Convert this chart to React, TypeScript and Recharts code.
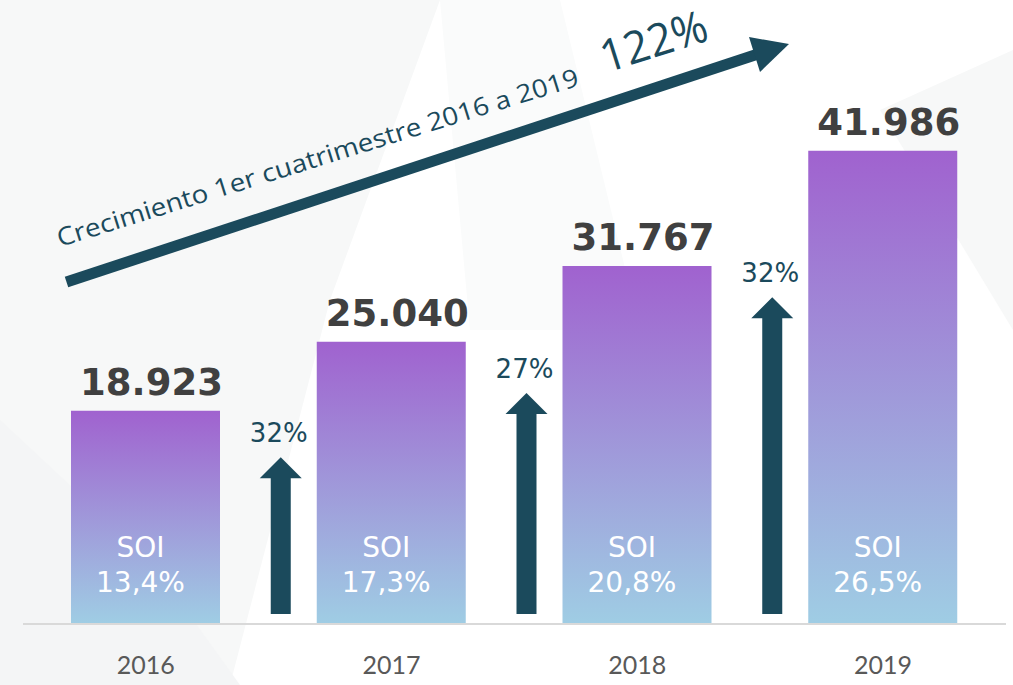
import React from "react";
import { BarChart, Bar, XAxis, YAxis, LabelList, ReferenceArea } from "recharts";

const years = ["2016", "2017", "2018", "2019"];
const afiliados = [18923, 25040, 31767, 41986];
const soiShare = ["13,4%", "17,3%", "20,8%", "26,5%"];

// growth arrows stand at the left edge of the year they lead into
const growthYears = ["2017", "2018", "2019"];
const growthLabels = ["32%", "27%", "32%"];
const growthArrowTops = [14800, 20500, 29000];

const captionText = "Crecimiento 1er cuatrimestre 2016 a 2019";
const totalGrowth = "122%";

const data = years.map((year, i) => ({ year, value: afiliados[i], soi: soiShare[i] }));

const TEAL = "#1b4a5c";

const fmt = (v: number) => String(v).replace(/\B(?=(\d{3})+(?!\d))/g, ".");

const ValueLabel = (props: any) => {
  const { x, y, width, value } = props;
  return (
    <text
      x={x + width / 2 + 6}
      y={y - 16}
      textAnchor="middle"
      fontFamily="DejaVu Sans"
      fontWeight="bold"
      fontSize={37}
      fill="#404040"
    >
      {fmt(value)}
    </text>
  );
};

const SoiLabel = (props: any) => {
  const { x, y, width, height, value } = props;
  const cx = x + width / 2 - 5;
  const base = y + height;
  return (
    <g fontFamily="DejaVu Sans" fontSize={28} fill="#ffffff" textAnchor="middle">
      <text x={cx} y={base - 67}>SOI</text>
      <text x={cx} y={base - 32}>{value}</text>
    </g>
  );
};

const GrowthArrow = (props: any) => {
  const { x, y, height, text } = props;
  const cx = x + 12;
  const top = y;
  const bottom = y + height - 10;
  const shaft = 10;
  const head = 21;
  const headH = 21;
  const d = `M${cx - shaft},${bottom} L${cx - shaft},${top + headH} L${cx - head},${top + headH} L${cx},${top} L${cx + head},${top + headH} L${cx + shaft},${top + headH} L${cx + shaft},${bottom} Z`;
  return (
    <g>
      <path d={d} fill={TEAL} />
      <text x={cx - 2} y={top - 15} textAnchor="middle" fontFamily="DejaVu Sans" fontSize={26} fill={TEAL}>
        {text}
      </text>
    </g>
  );
};

const YearTick = (props: any) => {
  const { x, y, payload } = props;
  return (
    <text x={x} y={y} dy={50} textAnchor="middle" fontFamily="Lato" fontSize={25} fill="#595959">
      {payload.value}
    </text>
  );
};

export default function App() {
  return (
    <div style={{ position: "absolute", left: 0, top: 0, width: 1013, height: 685, background: "#ffffff", overflow: "hidden" }}>
      <svg width={1013} height={685} style={{ position: "absolute", left: 0, top: 0 }}>
        <polygon points="0,0 440,0 330,300 230,685 0,685" fill="#f7f8f8" />
        <polygon points="0,420 150,560 240,685 0,685" fill="#f4f5f6" />
        <polygon points="880,110 1013,50 1013,330" fill="#f7f8f8" />
        <polygon points="440,0 560,0 640,330 470,330" fill="#fafbfb" />
      </svg>
      <div style={{ position: "absolute", left: 0, top: 0 }}>
        <BarChart width={1013} height={685} data={data} margin={{ top: 38, right: 7, bottom: 0, left: 23 }} barSize={149}>
          <defs>
            <linearGradient id="barFill" x1="0" y1="0" x2="0" y2="1">
              <stop offset="0%" stopColor="#a062cf" />
              <stop offset="100%" stopColor="#9fcde4" />
            </linearGradient>
          </defs>
          <XAxis
            dataKey="year"
            height={61}
            interval={0}
            axisLine={{ stroke: "#d9d9d9", strokeWidth: 2 }}
            tickLine={false}
            tickSize={0}
            tickMargin={0}
            tick={<YearTick />}
          />
          <YAxis hide domain={[0, 52000]} />
          <Bar dataKey="value" fill="url(#barFill)" isAnimationActive={false}>
            <LabelList dataKey="value" content={ValueLabel} />
            <LabelList dataKey="soi" content={SoiLabel} />
          </Bar>
          {growthYears.map((yr, i) => (
            <ReferenceArea
              key={yr}
              x1={yr}
              x2={yr}
              y1={0}
              y2={growthArrowTops[i]}
              shape={(p: any) => <GrowthArrow {...p} text={growthLabels[i]} />}
            />
          ))}
        </BarChart>
      </div>
      <svg width={1013} height={685} style={{ position: "absolute", left: 0, top: 0, pointerEvents: "none" }}>
        <line x1={66.5} y1={282} x2={758} y2={54} stroke={TEAL} strokeWidth={11} />
        <polygon points="749,37 789,44 760,72" fill={TEAL} />
        <text
          transform="translate(60,247) rotate(-17.3)"
          fontFamily="Open Sans"
          fontSize={25}
          fill={TEAL}
          textLength={545}
          lengthAdjust="spacingAndGlyphs"
        >
          {captionText}
        </text>
        <text
          transform="translate(606,73) rotate(-17.6)"
          fontFamily="Open Sans"
          fontSize={45}
          fill={TEAL}
          textLength={110}
          lengthAdjust="spacingAndGlyphs"
        >
          {totalGrowth}
        </text>
      </svg>
    </div>
  );
}
